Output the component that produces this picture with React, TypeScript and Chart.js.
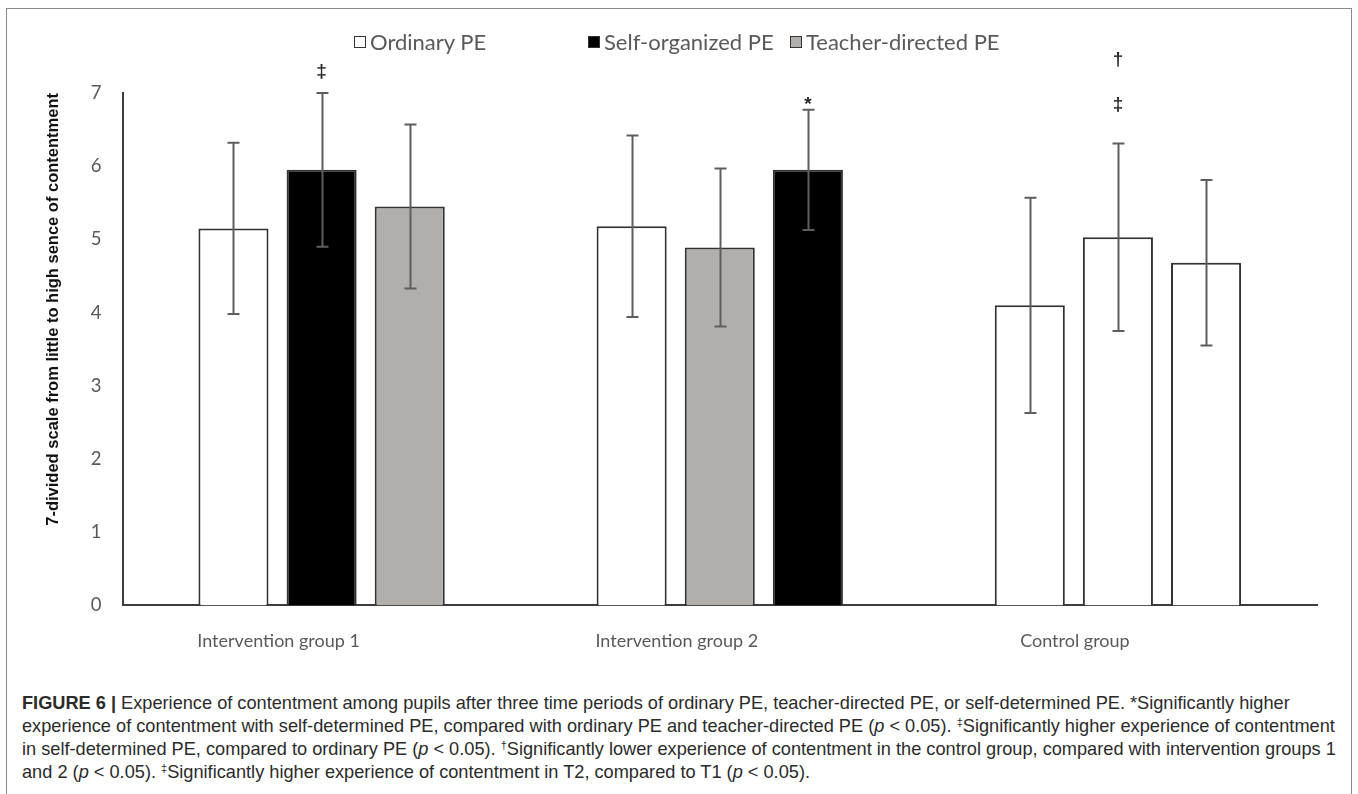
import React, { useEffect, useRef } from "react";
import { Chart, registerables } from "chart.js";

Chart.register(...registerables);

// ---- data ----
const categories = ["Intervention group 1", "Intervention group 2", "Control group"];
const legendLabels = ["Ordinary PE", "Self-organized PE", "Teacher-directed PE"];
const legendColors = ["#ffffff", "#000000", "#b1aeab"];

// bars by position inside each group (left, middle, right)
const leftBarValues = [5.15, 5.18, 4.1];
const leftBarErrors = [1.17, 1.24, 1.47];
const leftBarColors = ["#ffffff", "#ffffff", "#ffffff"];

const middleBarValues = [5.95, 4.89, 5.03];
const middleBarErrors = [1.05, 1.08, 1.28];
const middleBarColors = ["#000000", "#b1aeab", "#ffffff"];

const rightBarValues = [5.45, 5.95, 4.68];
const rightBarErrors = [1.12, 0.82, 1.13];
const rightBarColors = ["#b1aeab", "#000000", "#ffffff"];

// significance marks
const markTexts = ["‡", "*", "‡", "†"];
const markDatasets = [1, 2, 1, 1];
const markCategories = [0, 1, 2, 2];
const markLevels = [7.29, 6.84, 6.84, 7.45];

const yMin = 0;
const yMax = 7;
const yStep = 1;

const yTitle = "7-divided scale from little to high sence of contentment";

const errorsByDataset = [leftBarErrors, middleBarErrors, rightBarErrors];

const errorBarPlugin = {
  id: "errorBars",
  afterDatasetsDraw(chart: any) {
    const ctx = chart.ctx;
    const yScale = chart.scales.y;
    ctx.save();
    ctx.strokeStyle = "#5e5e5e";
    ctx.lineWidth = 2;
    chart.data.datasets.forEach((ds: any, i: number) => {
      const meta = chart.getDatasetMeta(i);
      meta.data.forEach((bar: any, j: number) => {
        const v = ds.data[j];
        const e = errorsByDataset[i][j];
        const top = yScale.getPixelForValue(v + e);
        const bot = yScale.getPixelForValue(v - e);
        const x = Math.round(bar.x) + 0.5;
        ctx.beginPath();
        ctx.moveTo(x, top);
        ctx.lineTo(x, bot);
        ctx.moveTo(x - 6, top);
        ctx.lineTo(x + 6, top);
        ctx.moveTo(x - 6, bot);
        ctx.lineTo(x + 6, bot);
        ctx.stroke();
      });
    });
    ctx.fillStyle = "#2a2a2a";
    ctx.font = "bold 19px 'Liberation Sans', Arial, sans-serif";
    ctx.textAlign = "center";
    ctx.textBaseline = "middle";
    markTexts.forEach((t, k) => {
      const bar = chart.getDatasetMeta(markDatasets[k]).data[markCategories[k]];
      const y = yScale.getPixelForValue(markLevels[k]);
      ctx.fillText(t, bar.x, y);
    });
    ctx.restore();
  },
};

function ChartView() {
  const ref = useRef<HTMLCanvasElement | null>(null);
  useEffect(() => {
    if (!ref.current) return;
    const mk = (label: string, data: number[], colors: string[]) => ({
      label,
      data,
      backgroundColor: colors,
      borderColor: "#333333",
      borderWidth: 2,
      borderSkipped: "bottom",
      categoryPercentage: 0.664,
      barPercentage: 0.795,
    });
    const chart = new Chart(ref.current, {
      type: "bar",
      data: {
        labels: categories,
        datasets: [
          mk(legendLabels[0], leftBarValues, leftBarColors),
          mk(legendLabels[1], middleBarValues, middleBarColors),
          mk(legendLabels[2], rightBarValues, rightBarColors),
        ],
      },
      options: {
        animation: false,
        responsive: true,
        maintainAspectRatio: false,
        layout: { padding: { left: 20, right: 31, top: 84, bottom: 10 } },
        plugins: {
          tooltip: { enabled: false },
          legend: { display: false },
        },
        scales: {
          x: {
            grid: { display: false, drawTicks: false },
            border: { display: true, color: "#3c3c3c", width: 2 },
            ticks: {
              color: "#595959",
              font: { family: "Lato", size: 18 },
              padding: 25,
              labelOffset: -43,
              maxRotation: 0,
            },
          },
          y: {
            min: yMin,
            max: yMax,
            grid: { display: false, drawTicks: false },
            border: { display: true, color: "#3c3c3c", width: 2 },
            ticks: {
              stepSize: yStep,
              color: "#595959",
              font: { family: "Lato", size: 18.5 },
              padding: 21,
            },
            title: {
              display: true,
              text: yTitle,
              align: "end",
              color: "#111111",
              font: { family: "'Liberation Sans', Arial, sans-serif", size: 16.5, weight: "bold" },
              padding: { top: 16, bottom: 6 },
            },
          },
        },
      },
      plugins: [errorBarPlugin],
    } as any);
    return () => chart.destroy();
  }, []);
  return <canvas ref={ref} />;
}

const legendSlotWidths = [234, 202, 230];

function Legend() {
  return (
    <div style={{ position: "absolute", left: 347, top: 20, display: "flex", whiteSpace: "nowrap" }}>
      {legendLabels.map((t, i) => (
        <div
          key={t}
          style={{
            width: legendSlotWidths[i],
            display: "flex",
            alignItems: "center",
            fontFamily: "Lato",
            fontSize: 22,
            lineHeight: "26px",
            color: "#595959",
            whiteSpace: "nowrap",
          }}
        >
          <span
            style={{
              display: "inline-block",
              flex: "0 0 auto",
              width: 12,
              height: 12,
              boxSizing: "border-box",
              border: "1.5px solid #333",
              background: legendColors[i],
              marginRight: 4,
            }}
          />
          <span>{t}</span>
        </div>
      ))}
    </div>
  );
}

export default function App() {
  const capStyle: React.CSSProperties = {
    position: "absolute",
    left: 15,
    top: 683,
    fontFamily: "'Liberation Sans', Arial, sans-serif",
    fontSize: 18.2,
    lineHeight: "23px",
    color: "#2b2b2b",
    whiteSpace: "nowrap",
  };
  const sup: React.CSSProperties = { fontSize: 11, verticalAlign: "6px", lineHeight: 0 };
  return (
    <div
      style={{
        position: "absolute",
        left: 6,
        top: 8,
        width: 1346,
        height: 800,
        boxSizing: "border-box",
        border: "1px solid #8a8a8a",
        borderBottom: "none",
        background: "#fff",
      }}
    >
      <div style={{ position: "absolute", left: 1, top: 0, width: 1340, height: 678 }}>
        <ChartView />
      </div>
      <Legend />
      <div style={capStyle}>
        <b>FIGURE 6 |</b> Experience of contentment among pupils after three time periods of ordinary PE, teacher-directed PE, or self-determined PE. *Significantly higher
        <br />
        experience of contentment with self-determined PE, compared with ordinary PE and teacher-directed PE (<i>p</i> &lt; 0.05). <span style={sup}>‡</span>Significantly higher experience of contentment
        <br />
        in self-determined PE, compared to ordinary PE (<i>p</i> &lt; 0.05). <span style={sup}>†</span>Significantly lower experience of contentment in the control group, compared with intervention groups 1
        <br />
        and 2 (<i>p</i> &lt; 0.05). <span style={sup}>‡</span>Significantly higher experience of contentment in T2, compared to T1 (<i>p</i> &lt; 0.05).
      </div>
    </div>
  );
}
